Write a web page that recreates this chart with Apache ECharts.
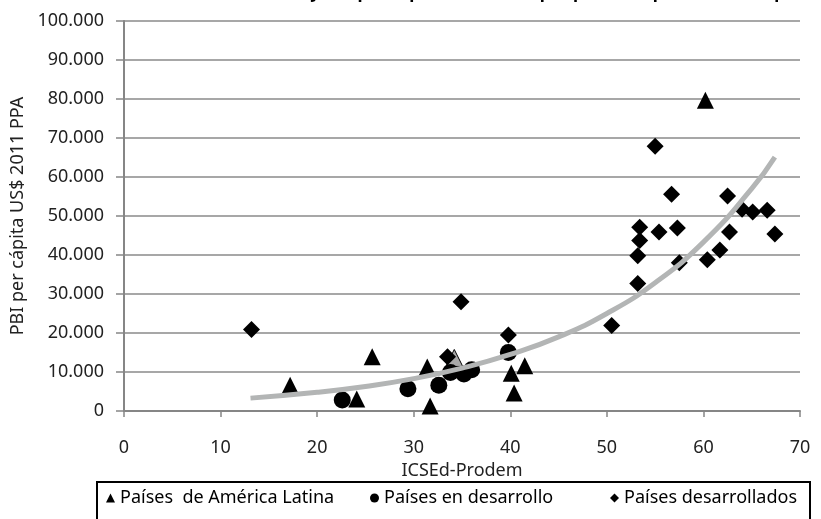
<!DOCTYPE html>
<html>
<head>
<meta charset="utf-8">
<script src="https://cdn.jsdelivr.net/npm/echarts@6/dist/echarts.min.js"></script>
<style>html,body{margin:0;padding:0;background:#fff;}#c{width:821px;height:519px;}</style>
</head>
<body>
<div id="c"></div>
<script>
// Países de América Latina [ICSEd-Prodem, PBI per cápita]
const latamX = [17.2, 24.1, 25.7, 31.4, 31.7, 40.1, 40.4, 41.5, 60.2];
const latamY = [6600, 3100, 13900, 11300, 1300, 9700, 4600, 11600, 79700];
// highlighted (grey) Latin American point
const latamGreyX = [34.2];
const latamGreyY = [13600];
// Países en desarrollo
const devX = [22.6, 29.4, 32.6, 33.8, 35.2, 36.0, 39.8];
const devY = [2800, 5700, 6600, 9900, 9500, 10600, 15000];
// Países desarrollados
const dvdX = [13.2, 33.5, 34.9, 39.8, 50.5, 53.2, 53.2, 53.4, 53.4, 55.0, 55.4, 56.7, 57.3, 57.5, 60.4, 61.7, 62.5, 62.7, 64.0, 65.1, 66.6, 67.4];
const dvdY = [20900, 13900, 28000, 19500, 21900, 32700, 39800, 43700, 47100, 67900, 45900, 55600, 46900, 38000, 38800, 41300, 55100, 45900, 51700, 51000, 51500, 45400];
// Trend line
const trendX = [13.1, 20, 25, 30, 35, 40, 45, 50, 55, 60, 65, 67.4];
const trendY = [3300, 4800, 6300, 8300, 11000, 14500, 19000, 25000, 32900, 43300, 57000, 65100];
const xTicks = [0, 10, 20, 30, 40, 50, 60, 70];

const zip = (a, b) => a.map((v, i) => [v, b[i]]);
const FONT = 'Noto Sans';
const chart = echarts.init(document.getElementById('c'));
const legendCommon = {
  orient: 'horizontal', top: 489, itemWidth: 9, itemHeight: 9, itemGap: 4,
  textStyle: { fontFamily: FONT, fontSize: 18, color: '#000' }, padding: 0
};
chart.setOption({
  animation: false,
  title: {
    text: 'Gráfico 2. Relación entre ICSEd-Prodem y PBI per cápita en dólares por poder de paridad de adquisición',
    left: 'center', top: -20,
    textStyle: { fontFamily: FONT, fontSize: 17, fontWeight: 'bold', color: '#000' }
  },
  grid: { left: 124, right: 21, top: 21, bottom: 108, containLabel: false },
  xAxis: {
    type: 'value', min: 0, max: 70, interval: 10,
    name: 'ICSEd-Prodem', nameLocation: 'middle', nameGap: 48,
    nameTextStyle: { fontFamily: FONT, fontSize: 18, color: '#222' },
    axisLine: { show: true, onZero: false, lineStyle: { color: '#868686', width: 2 } },
    axisTick: { show: true, length: 6, lineStyle: { color: '#868686', width: 1.5 } },
    axisLabel: { margin: 28, fontFamily: FONT, fontSize: 18, color: '#222',
      formatter: v => xTicks.includes(v) ? String(v) : '' },
    splitLine: { show: false }
  },
  yAxis: {
    type: 'value', min: 0, max: 100000, interval: 10000,
    name: 'PBI per cápita US$ 2011 PPA', nameLocation: 'middle', nameGap: 96,
    nameTextStyle: { fontFamily: FONT, fontSize: 18, color: '#222' },
    axisLine: { show: true, lineStyle: { color: '#868686', width: 2 } },
    axisTick: { show: true, length: 8, lineStyle: { color: '#868686', width: 1.5 } },
    axisLabel: { margin: 20, fontFamily: FONT, fontSize: 18, color: '#222',
      formatter: v => v === 0 ? '0' : (v / 1000) + '.000' },
    splitLine: { show: true, lineStyle: { color: '#8a8a8a', width: 1.5 } }
  },
  legend: [
    Object.assign({}, legendCommon, { left: 106, data: [{ name: 'Países  de América Latina', icon: 'triangle' }] }),
    Object.assign({}, legendCommon, { left: 370, data: [{ name: 'Países en desarrollo', icon: 'circle' }] }),
    Object.assign({}, legendCommon, { left: 610, data: [{ name: 'Países desarrollados', icon: 'diamond' }] })
  ],
  graphic: [{
    type: 'rect', shape: { x: 97, y: 482, width: 713, height: 50 },
    style: { fill: 'none', stroke: '#000', lineWidth: 2 }, silent: true
  }],
  series: [
    { name: 'Países  de América Latina', type: 'scatter', symbol: 'triangle', symbolSize: 17,
      itemStyle: { color: '#000', opacity: 1 },
      data: zip(latamX, latamY).concat(zip(latamGreyX, latamGreyY).map(p => ({ value: p, itemStyle: { color: '#a9a9a9', borderColor: '#000', borderWidth: 1 } }))) },
    { name: 'Países en desarrollo', type: 'scatter', symbol: 'circle', symbolSize: 17,
      itemStyle: { color: '#000', opacity: 1 }, data: zip(devX, devY) },
    { name: 'Países desarrollados', type: 'scatter', symbol: 'diamond', symbolSize: 17,
      itemStyle: { color: '#000', opacity: 1 }, data: zip(dvdX, dvdY) },
    { name: 'trend', type: 'line', smooth: true, symbol: 'none', z: 5,
      lineStyle: { color: '#b3b5b5', width: 5 }, data: zip(trendX, trendY) }
  ]
});
</script>
</body>
</html>
